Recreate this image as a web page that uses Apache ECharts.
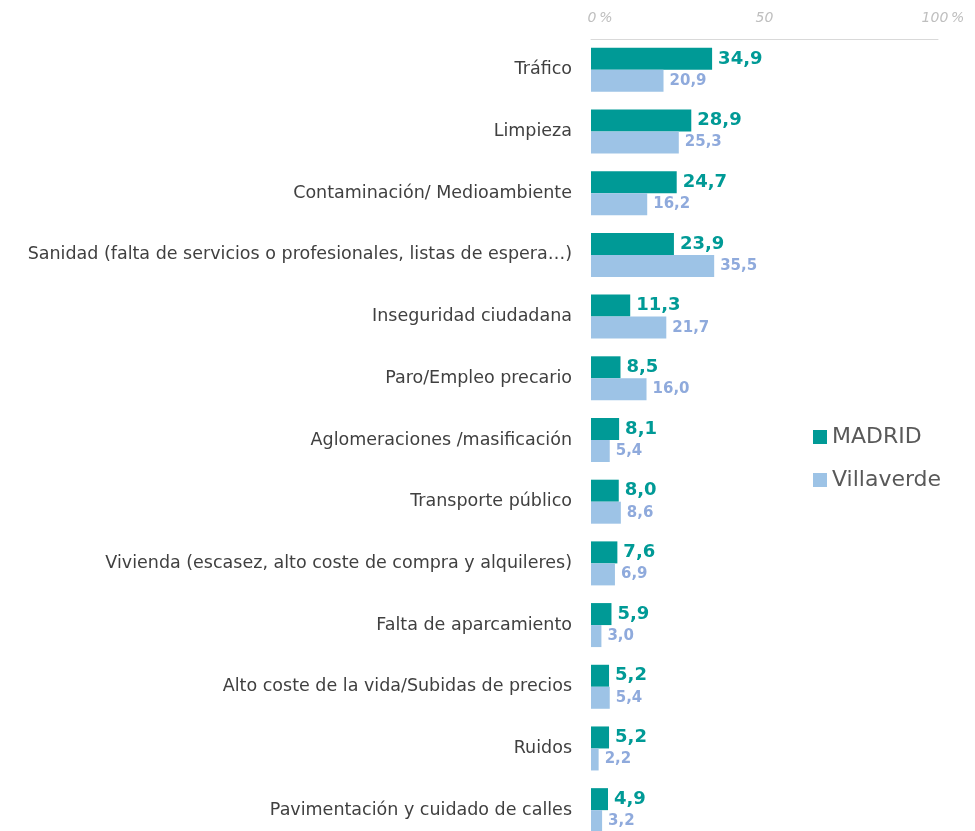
<!DOCTYPE html>
<html>
<head>
<meta charset="utf-8">
<script src="https://cdn.jsdelivr.net/npm/echarts@6/dist/echarts.min.js"></script>
<style>
  html, body { margin: 0; padding: 0; background: #fff; overflow: hidden; }
  #container { width: 975px; height: 845px; }
</style>
</head>
<body>
<div id="container"></div>
<script>
  var categories = [
    'Tráfico',
    'Limpieza',
    'Contaminación/ Medioambiente',
    'Sanidad (falta de servicios o profesionales, listas de espera…)',
    'Inseguridad ciudadana',
    'Paro/Empleo precario',
    'Aglomeraciones /masificación',
    'Transporte público',
    'Vivienda (escasez, alto coste de compra y alquileres)',
    'Falta de aparcamiento',
    'Alto coste de la vida/Subidas de precios',
    'Ruidos',
    'Pavimentación y cuidado de calles'
  ];
  var madrid = [34.9, 28.9, 24.7, 23.9, 11.3, 8.5, 8.1, 8.0, 7.6, 5.9, 5.2, 5.2, 4.9];
  var villaverde = [20.9, 25.3, 16.2, 35.5, 21.7, 16.0, 5.4, 8.6, 6.9, 3.0, 5.4, 2.2, 3.2];
  var tickLabels = {0: '0\u2009%', 50: '50', 100: '100\u2009%'};

  var fontName = 'DejaVu Sans';
  var fmt = function (p) { return p.value.toFixed(1).replace('.', ','); };

  var myChart = echarts.init(document.getElementById('container'));
  var tickStyle = {color: '#bfbfbf', fontSize: 14, fontStyle: 'italic', fontFamily: fontName};
  var option = {
    animation: false,
    textStyle: {fontFamily: fontName},
    legend: {
      orient: 'vertical',
      left: 808,
      top: 421,
      itemWidth: 14,
      itemHeight: 14,
      itemGap: 21,
      icon: 'rect',
      textStyle: {fontSize: 22, color: '#595959', fontFamily: fontName},
      data: ['MADRID', 'Villaverde']
    },
    grid: {
      left: 591,
      top: 39,
      width: 347,
      height: 802,
      containLabel: false
    },
    xAxis: {
      type: 'value',
      position: 'top',
      min: 0,
      max: 100,
      interval: 50,
      splitLine: {show: false},
      axisTick: {show: false},
      axisLine: {show: true, lineStyle: {color: '#d9d9d9', width: 1}},
      axisLabel: {
        margin: 14,
        formatter: function (v) {
          if (v === 0) return '{a|' + tickLabels[0] + '}';
          if (v === 100) return '{c|' + tickLabels[100] + '}';
          return '{b|' + tickLabels[50] + '}';
        },
        rich: {
          a: Object.assign({padding: [0, 0, 0, 18]}, tickStyle),
          b: tickStyle,
          c: Object.assign({padding: [0, 0, 0, 10]}, tickStyle)
        }
      }
    },
    yAxis: {
      type: 'category',
      inverse: true,
      data: categories,
      axisLine: {show: false},
      axisTick: {show: false},
      axisLabel: {
        margin: 19,
        color: '#404040',
        fontSize: 17.5,
        fontFamily: fontName
      }
    },
    series: [
      {
        name: 'MADRID',
        type: 'bar',
        data: madrid,
        barWidth: 22,
        barGap: '0%',
        itemStyle: {color: '#009a96'},
        label: {
          show: true,
          position: 'right',
          distance: 6,
          formatter: fmt,
          color: '#009a96',
          fontWeight: 'bold',
          fontSize: 18,
          fontFamily: fontName
        }
      },
      {
        name: 'Villaverde',
        type: 'bar',
        data: villaverde,
        barWidth: 22,
        itemStyle: {color: '#9dc3e6'},
        label: {
          show: true,
          position: 'right',
          distance: 6,
          formatter: fmt,
          color: '#8faadc',
          fontWeight: 'bold',
          fontSize: 15,
          fontFamily: fontName
        }
      }
    ]
  };
  myChart.setOption(option, true);
</script>
</body>
</html>
